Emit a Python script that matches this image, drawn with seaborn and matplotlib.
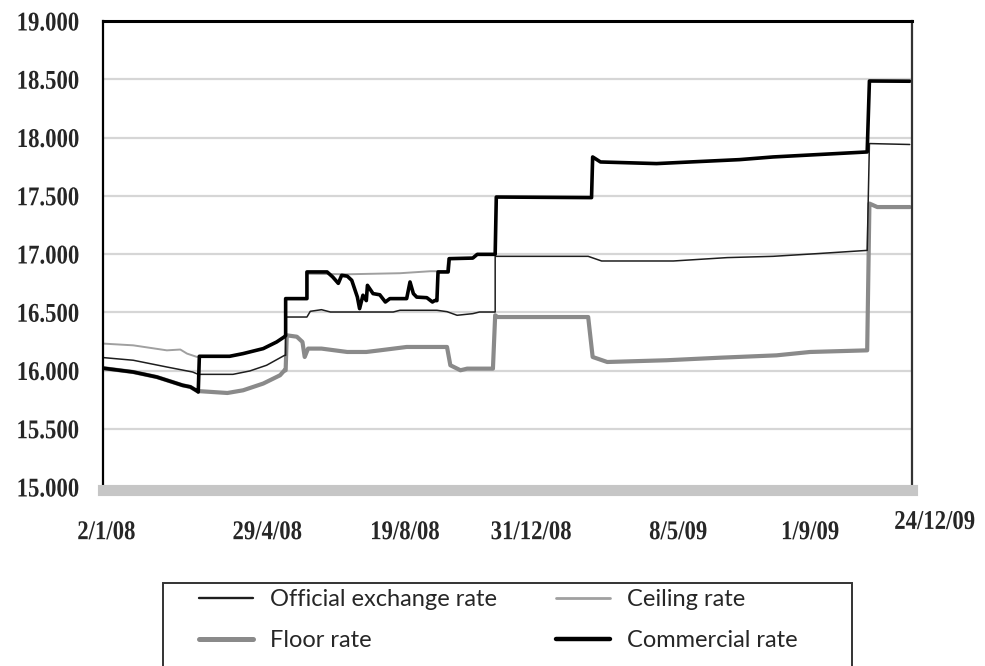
# Exchange rates 2008-2009: official rate with its band (ceiling / floor)
# and the commercial rate.
import pandas as pd
import numpy as np
import matplotlib
matplotlib.use("Agg")
import matplotlib.pyplot as plt
import matplotlib.dates as mdates
from matplotlib.lines import Line2D
from matplotlib.patches import Rectangle
from matplotlib.patheffects import AbstractPathEffect
from matplotlib.transforms import Affine2D
from matplotlib.ticker import FuncFormatter
import seaborn as sns

# ---------------------------------------------------------------
# Data (date, value)
official_dates = ['2008-01-02', '2008-01-29', '2008-02-28', '2008-03-22', '2008-03-27',
                  '2008-04-27', '2008-05-12', '2008-05-27', '2008-06-12', '2008-06-13',
                  '2008-06-13', '2008-07-02', '2008-07-05', '2008-07-15', '2008-07-23',
                  '2008-09-17', '2008-09-23', '2008-10-26', '2008-11-04', '2008-11-13',
                  '2008-11-27', '2008-12-03', '2008-12-17', '2008-12-17', '2009-03-10',
                  '2009-03-22', '2009-05-25', '2009-07-12', '2009-08-22', '2009-09-30',
                  '2009-11-14', '2009-11-16', '2009-12-22']
official_vals = [16111, 16088, 16030, 15987, 15967,
                 15967, 15996, 16045, 16130, 16130,
                 16459, 16459, 16508, 16522, 16502,
                 16502, 16517, 16517, 16505, 16474,
                 16488, 16502, 16502, 16980, 16980,
                 16940, 16940, 16969, 16980, 17003,
                 17031, 17948, 17940]

ceiling_dates = ['2008-01-02', '2008-01-29', '2008-02-28', '2008-03-11', '2008-03-17',
                 '2008-03-26', '2008-03-28', '2008-04-24', '2008-05-06', '2008-05-24',
                 '2008-06-05', '2008-06-12', '2008-06-13', '2008-06-13', '2008-07-02',
                 '2008-07-02', '2008-08-07', '2008-09-23', '2008-10-20', '2008-11-04',
                 '2008-11-05', '2008-11-27', '2008-12-01', '2008-12-17', '2008-12-18',
                 '2009-03-13', '2009-03-14', '2009-03-21', '2009-05-10', '2009-06-09',
                 '2009-07-23', '2009-08-22', '2009-10-06', '2009-11-14', '2009-11-16',
                 '2009-12-22']
ceiling_vals = [16231, 16216, 16173, 16180, 16145,
                16116, 16122, 16122, 16145, 16188,
                16245, 16290, 16300, 16617, 16617,
                16830, 16826, 16835, 16852, 16852,
                16960, 16965, 16997, 16997, 17489,
                17484, 17833, 17790, 17776, 17790,
                17810, 17833, 17856, 17876, 18485,
                18483]

floor_dates = ['2008-01-02', '2008-01-29', '2008-02-19', '2008-03-04', '2008-03-13',
               '2008-03-20', '2008-03-26', '2008-04-22', '2008-05-06', '2008-05-24',
               '2008-06-08', '2008-06-12', '2008-06-13', '2008-06-14', '2008-06-23',
               '2008-06-28', '2008-06-30', '2008-07-03', '2008-07-15', '2008-08-07',
               '2008-08-24', '2008-09-05', '2008-09-29', '2008-11-04', '2008-11-07',
               '2008-11-16', '2008-11-22', '2008-12-15', '2008-12-17', '2008-12-19',
               '2009-03-10', '2009-03-14', '2009-03-27', '2009-05-19', '2009-07-06',
               '2009-08-25', '2009-09-24', '2009-11-14', '2009-11-16', '2009-11-23',
               '2009-12-22']
floor_vals = [16020, 15987, 15944, 15901, 15873,
              15859, 15824, 15807, 15830, 15888,
              15959, 16002, 16002, 16302, 16290,
              16245, 16116, 16188, 16188, 16159,
              16159, 16173, 16202, 16202, 16045,
              16002, 16016, 16016, 16474, 16459,
              16459, 16116, 16073, 16088, 16110,
              16130, 16159, 16173, 17433, 17403,
              17403]

commercial_dates = ['2008-01-02', '2008-01-29', '2008-02-19', '2008-03-04', '2008-03-13',
                    '2008-03-20', '2008-03-26', '2008-03-27', '2008-03-28', '2008-04-24',
                    '2008-05-06', '2008-05-24', '2008-06-05', '2008-06-12', '2008-06-13',
                    '2008-06-13', '2008-07-02', '2008-07-02', '2008-07-20', '2008-07-25',
                    '2008-07-30', '2008-08-02', '2008-08-07', '2008-08-11', '2008-08-16',
                    '2008-08-18', '2008-08-21', '2008-08-24', '2008-08-25', '2008-08-30',
                    '2008-09-05', '2008-09-10', '2008-09-14', '2008-09-29', '2008-10-02',
                    '2008-10-05', '2008-10-08', '2008-10-17', '2008-10-22', '2008-10-24',
                    '2008-10-26', '2008-10-27', '2008-11-05', '2008-11-06', '2008-11-27',
                    '2008-12-01', '2008-12-17', '2008-12-18', '2009-03-13', '2009-03-14',
                    '2009-03-21', '2009-05-10', '2009-06-09', '2009-07-23', '2009-08-22',
                    '2009-10-06', '2009-11-14', '2009-11-16', '2009-12-22']
commercial_vals = [16020, 15987, 15944, 15901, 15873,
                   15859, 15824, 15815, 16122, 16122,
                   16145, 16188, 16245, 16290, 16300,
                   16617, 16617, 16846, 16846, 16803,
                   16748, 16817, 16810, 16774, 16631,
                   16531, 16646, 16600, 16731, 16660,
                   16650, 16588, 16617, 16617, 16760,
                   16660, 16630, 16625, 16588, 16600,
                   16600, 16846, 16846, 16960, 16965,
                   16997, 16997, 17489, 17484, 17833,
                   17790, 17776, 17790, 17810, 17833,
                   17856, 17876, 18485, 18483]

series_names = ['Official exchange rate', 'Ceiling rate', 'Floor rate', 'Commercial rate']
xtick_labels = ['2/1/08', '29/4/08', '19/8/08', '31/12/08', '8/5/09', '1/9/09', '24/12/09']

# ---------------------------------------------------------------
# Long table for seaborn
frames = []
for name, d, v in [('Floor rate', floor_dates, floor_vals),
                   ('Ceiling rate', ceiling_dates, ceiling_vals),
                   ('Official exchange rate', official_dates, official_vals),
                   ('Commercial rate', commercial_dates, commercial_vals)]:
    frames.append(pd.DataFrame({'date': pd.to_datetime(d), 'rate': v, 'series': name}))
data = pd.concat(frames, ignore_index=True)

colors = {'Official exchange rate': '#1e1e1e', 'Ceiling rate': '#a0a0a0',
          'Floor rate': '#8a8a8a', 'Commercial rate': '#000000'}
widths = {'Official exchange rate': 1.1, 'Ceiling rate': 1.4,
          'Floor rate': 3.0, 'Commercial rate': 2.6}


# The original tick labels are a tall, narrow bold serif: squeeze the glyphs sideways.
class Squeeze(AbstractPathEffect):
    def __init__(self, sx, anchor='center'):
        super().__init__()
        self.sx = sx
        self.anchor = anchor

    def draw_path(self, renderer, gc, tpath, affine, rgbFace=None):
        ext = tpath.get_extents()
        cx = {'center': (ext.x0 + ext.x1) / 2, 'right': ext.x1, 'left': ext.x0}[self.anchor]
        squeeze = Affine2D().translate(-cx, 0).scale(self.sx, 1).translate(cx, 0)
        renderer.draw_path(gc, tpath, squeeze + affine, rgbFace)


sns.set_style("white")
fig = plt.figure(figsize=(9.85, 6.66), dpi=100)
ax = fig.add_axes([103 / 985, 1 - 487 / 666, 809 / 985, 466 / 666])

sns.lineplot(data=data, x='date', y='rate', hue='series', size='series',
             hue_order=['Floor rate', 'Ceiling rate', 'Official exchange rate', 'Commercial rate'],
             palette=colors, sizes=widths, estimator=None, sort=False,
             legend=False, ax=ax)

# Axes limits and grid
ax.set_xlim(pd.Timestamp('2008-01-02'), pd.Timestamp('2009-12-24'))
ax.set_ylim(15000, 19000)
ax.set_yticks(np.arange(15000, 19001, 500))
ax.yaxis.set_major_formatter(FuncFormatter(lambda v, p: f'{v:,.0f}'.replace(',', '.')))
ax.grid(axis='y', color='#d6d6d6', lw=1.6)
ax.set_axisbelow(True)
ax.set_xlabel('')
ax.set_ylabel('')

tick_font = dict(family='Liberation Serif', weight='bold', size=19.5)
ax.tick_params(axis='y', direction='out', length=5, width=1.2, color='black', pad=12)
for lab in ax.get_yticklabels():
    lab.set_fontfamily(tick_font['family'])
    lab.set_fontweight(tick_font['weight'])
    lab.set_fontsize(tick_font['size'])
    lab.set_path_effects([Squeeze(0.84, 'right')])

# Spines: thick black frame, grey band at the bottom
ax.spines['left'].set_linewidth(1.6)
ax.spines['left'].set_color('black')
ax.spines['top'].set_linewidth(2.2)
ax.spines['top'].set_color('black')
ax.spines['right'].set_linewidth(1.6)
ax.spines['right'].set_color('#333333')
ax.spines['bottom'].set_position(('outward', 2.5))
ax.spines['bottom'].set_linewidth(8)
ax.spines['bottom'].set_color('#c6c6c6')

# x ticks: light marks in the grey band, labels placed like the original
ax.xaxis.set_major_locator(mdates.MonthLocator(bymonth=[2, 4, 6, 8, 10, 12]))
ax.tick_params(axis='x', direction='inout', length=8, width=1, color='#f2f2f2',
               labelbottom=False)
label_x = [0.004, 0.203, 0.373, 0.529, 0.711, 0.874, 1.028]
label_y = [-0.098] * 6 + [-0.076]
for lx, ly, txt in zip(label_x, label_y, xtick_labels):
    ax.text(lx, ly, txt, transform=ax.transAxes, ha='center', va='center',
            clip_on=False, path_effects=[Squeeze(0.84, 'center')], **tick_font)

# Legend: frame drawn separately, two columns
fig.patches.append(Rectangle((163 / 985, -0.006), 689 / 985, (670 - 583) / 666,
                             transform=fig.transFigure, fill=False,
                             edgecolor='#333333', lw=1.4))


def handle(name):
    return Line2D([], [], color=colors[name], lw=widths[name] + 0.6)


leg_style = dict(frameon=False, loc='upper left', borderpad=0, borderaxespad=0,
                 handlelength=2.3, handletextpad=0.7, labelspacing=0.85,
                 prop={'family': 'Lato', 'size': 17})
leg1 = fig.legend([handle(series_names[0]), handle(series_names[2])],
                  [series_names[0], series_names[2]],
                  bbox_to_anchor=(199 / 985, 1 - 589 / 666), **leg_style)
leg2 = fig.legend([handle(series_names[1]), handle(series_names[3])],
                  [series_names[1], series_names[3]],
                  bbox_to_anchor=(556 / 985, 1 - 589 / 666), **leg_style)

plt.savefig('out.png', dpi=100)
